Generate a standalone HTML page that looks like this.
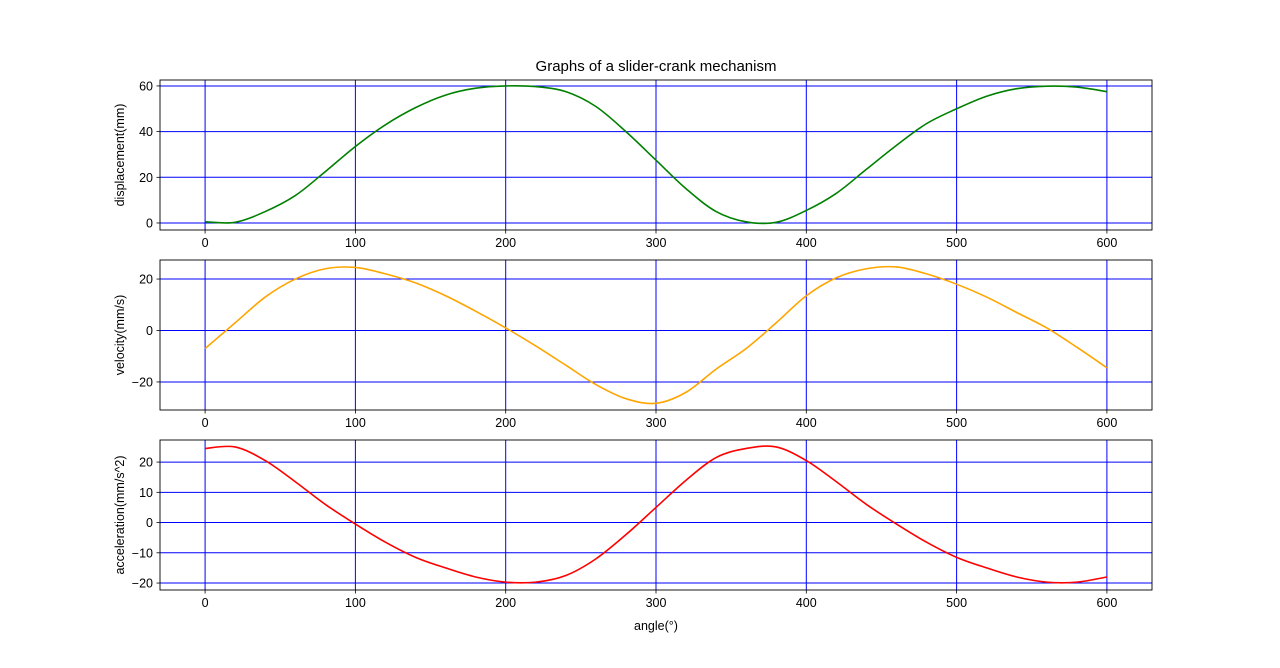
<!DOCTYPE html>
<html><head><meta charset="utf-8"><style>
body{margin:0;background:#fff}
svg text{font-family:"Liberation Sans","DejaVu Sans",sans-serif;font-size:12.5px;fill:#000}
</style></head><body>
<svg id="chart" width="1280" height="663" xmlns="http://www.w3.org/2000/svg">
<rect width="1280" height="663" fill="#fff"/>
<text x="656" y="71" text-anchor="middle" style="font-size:15px">Graphs of a slider-crank mechanism</text>
</svg>
<script>
const angles = [0,20,40,60,80,100,120,140,160,180,200,220,240,260,280,300,320,340,360,380,400,420,440,460,480,500,520,540,560,580,600];
const displacement = [0.5,0.3,5,12,22.5,33.5,43,50.5,56,59,60,59.7,57.5,51,40,27.5,15,5,0.5,0.3,5.5,13,23.5,34,43.5,50,55.5,58.8,59.9,59.5,57.5];
const velocity = [-7,3,13,20,24,24.5,22,18.5,13.5,7.5,1,-6,-13.5,-21,-26.5,-28.3,-24,-15,-7,3,13.5,20.5,24,24.7,22,18,13,7,1,-6.5,-14.5];
const acceleration = [24.5,25,20.5,13.5,6,-0.5,-6.5,-11.5,-15,-18,-19.7,-19.7,-17.5,-12,-4,5,14,21.5,24.5,25,20.5,13.5,6,-0.5,-6.5,-11.5,-15,-18,-19.7,-19.7,-18];
const xTicks = [0,100,200,300,400,500,600];
const panels = [
 {name:'displacement', data:displacement, color:'green', top:80, ymin:-3.07, ymax:62.6, ticks:[0,20,40,60], label:'displacement(mm)'},
 {name:'velocity', data:velocity, color:'orange', top:260, ymin:-30.9, ymax:27.4, ticks:[-20,0,20], label:'velocity(mm/s)'},
 {name:'acceleration', data:acceleration, color:'red', top:440, ymin:-22.3, ymax:27.3, ticks:[-20,-10,0,10,20], label:'acceleration(mm/s^2)'}
];
const svg = document.getElementById('chart');
const NS = 'http://www.w3.org/2000/svg';
const L=160,R=1152,H=150,xmin=-30,xmax=630;
const xs = v => L+(v-xmin)/(xmax-xmin)*(R-L);
function mk(tag, attrs, parent){const e=document.createElementNS(NS,tag);for(const k in attrs)e.setAttribute(k,attrs[k]);(parent||svg).appendChild(e);return e;}
panels.forEach((p,pi)=>{
  const ys = v => p.top+H-(v-p.ymin)/(p.ymax-p.ymin)*H;
  const g = mk('g',{});
  
  
  xTicks.forEach(t=>{
    const l=mk('line',{x1:xs(t),x2:xs(t),y1:p.top,y2:p.top+H,stroke:'blue','stroke-width':1},g);
    
    
    mk('line',{x1:xs(t),x2:xs(t),y1:p.top+H,y2:p.top+H+3.5,stroke:'#000','stroke-width':0.8},g);
    const tx=mk('text',{x:xs(t),y:p.top+H+17,'text-anchor':'middle'},g);
    tx.textContent=t;
    
    
  });
  p.ticks.forEach(t=>{
    const l=mk('line',{x1:L,x2:R,y1:ys(t),y2:ys(t),stroke:'blue','stroke-width':1},g);
    
    
    mk('line',{x1:L-3.5,x2:L,y1:ys(t),y2:ys(t),stroke:'#000','stroke-width':0.8},g);
    const tx=mk('text',{x:L-7,y:ys(t)+4.5,'text-anchor':'end'},g);
    tx.textContent=String(t).replace('-','\u2212');
    
    
  });
  const pts = angles.map((a,i)=>[xs(a),ys(p.data[i])]);
  let d='M'+pts[0][0]+','+pts[0][1];
  for(let i=0;i<pts.length-1;i++){
    const p0=pts[Math.max(i-1,0)],p1=pts[i],p2=pts[i+1],p3=pts[Math.min(i+2,pts.length-1)];
    d+=' C'+(p1[0]+(p2[0]-p0[0])/6)+','+(p1[1]+(p2[1]-p0[1])/6)+' '+(p2[0]-(p3[0]-p1[0])/6)+','+(p2[1]-(p3[1]-p1[1])/6)+' '+p2[0]+','+p2[1];
  }
  const path=mk('path',{d:d,fill:'none',stroke:p.color,'stroke-width':1.6},g);
  
  
  mk('rect',{x:L,y:p.top,width:R-L,height:H,fill:'none',stroke:'#000','stroke-width':0.9},g);
  const yl=mk('text',{x:0,y:0,'text-anchor':'middle',transform:'translate(124,'+(p.top+H/2)+') rotate(-90)'},g);
  yl.textContent=p.label;
  
  
});
const xl=mk('text',{x:656,y:630,'text-anchor':'middle'});
xl.textContent='angle(°)';


</script>
</body></html>
